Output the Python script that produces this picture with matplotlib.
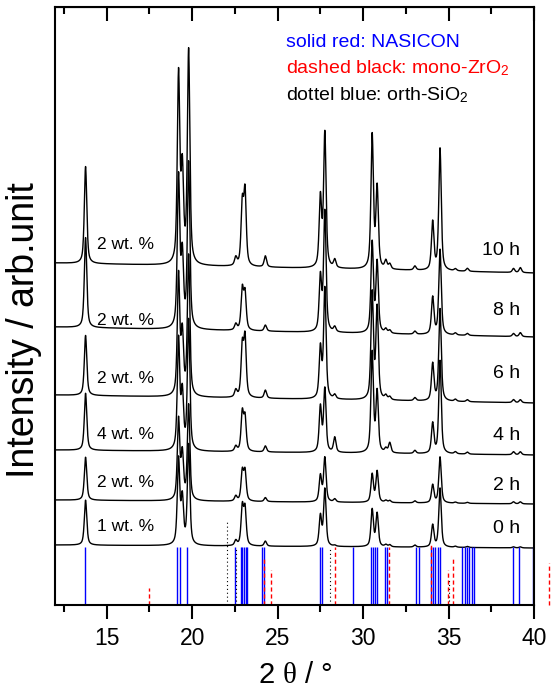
import matplotlib
matplotlib.use("Agg")
import matplotlib.pyplot as plt
import numpy as np

plt.rcParams['font.family'] = ['Liberation Sans', 'DejaVu Sans']
plt.rcParams['mathtext.fontset'] = 'custom'
plt.rcParams['mathtext.rm'] = 'Liberation Sans'
plt.rcParams['mathtext.it'] = 'Liberation Serif'

# sample names (bottom to top) and additive labels
times = ['0 h', '2 h', '4 h', '6 h', '8 h', '10 h']
additive = ['1 wt. %', '2 wt. %', '4 wt. %', '2 wt. %', '2 wt. %', '2 wt. %']

# baseline of each pattern at 2theta = 12 and at 2theta = 40 (offset units)
base_left = [60, 105, 155, 210, 278, 342]
base_right = [57, 101, 150, 202, 268, 332]

# peak positions (2 theta) and heights read for each pattern (0 h ... 10 h)
peak_pos = [13.76, 19.20, 19.42, 19.79, 22.55, 22.93, 23.09, 24.28, 27.50, 27.76,
            28.34, 30.53, 30.82, 31.33, 31.56, 33.03, 34.07, 34.50, 35.40, 36.10,
            38.80, 39.20]
peak_h = {
    '0 h':  [45, 85, 45, 100, 5, 38, 36, 5, 30, 57, 1, 37, 33, 2, 2, 2, 22, 59, 1, 1, 1, 1],
    '2 h':  [43, 80, 45, 95, 5, 29, 29, 4, 26, 44, 3, 28, 31, 2, 2, 2, 18, 46, 1, 1, 2, 2],
    '4 h':  [57, 110, 55, 130, 5, 38, 33, 6, 45, 63, 15, 100, 60, 4, 10, 3, 30, 93, 2, 2, 3, 3],
    '6 h':  [60, 120, 60, 140, 7, 50, 58, 8, 50, 110, 4, 106, 91, 4, 3, 3, 37, 92, 2, 2, 3, 3],
    '8 h':  [90, 150, 70, 165, 6, 40, 36, 6, 54, 120, 5, 90, 70, 4, 3, 3, 37, 85, 2, 2, 3, 4],
    '10 h': [97, 188, 90, 213, 8, 60, 72, 11, 69, 134, 8, 133, 80, 8, 5, 4, 48, 122, 2, 3, 4, 5],
}
fwhm = 0.17
eta = 0.6

# reference patterns
nasicon_pos = [13.70, 19.11, 19.30, 19.69, 22.53, 22.84, 22.93, 23.03, 23.13, 23.23,
               24.07, 24.19, 27.47, 27.58, 29.42, 30.49, 30.59, 30.69, 30.79, 31.27,
               31.37, 33.09, 33.28, 33.95, 34.07, 34.20, 34.36, 34.50, 35.80, 35.96,
               36.09, 36.21, 36.35, 36.49, 38.75, 39.14, 39.92]
nasicon_h = 58
zro2_pos = [17.45, 24.19, 24.63, 28.33, 31.50, 34.00, 34.95, 35.26, 40.85]
zro2_h = [17, 48, 35, 58, 58, 62, 35, 47, 42]
sio2_pos = [22.02, 22.57, 28.07, 35.05]
sio2_h = [85, 58, 58, 25]

x = np.linspace(12, 40, 2801)


def pattern(heights):
    y = np.zeros_like(x)
    for p, h in zip(peak_pos, heights):
        d = (x - p) / (fwhm / 2)
        lor = 1 / (1 + d ** 2)
        gau = np.exp(-np.log(2) * d ** 2)
        y += h * (eta * lor + (1 - eta) * gau)
    return y


fig = plt.figure(figsize=(5.51, 6.92), dpi=100)
ax = fig.add_axes([0.1007, 0.1257, 0.8685, 0.8642])

for i, t in enumerate(times):
    base = base_left[i] + (base_right[i] - base_left[i]) * (x - 12) / 28
    ax.plot(x, base + pattern(peak_h[t]), color='black', lw=1.0)

ax.vlines(nasicon_pos, 0, nasicon_h, colors='blue', lw=1.0)
for p, h in zip(zro2_pos, zro2_h):
    ax.plot([p, p], [0, h], color='red', lw=1.0, ls=(0, (3, 2)), clip_on=(p <= 40))
for p, h in zip(sio2_pos, sio2_h):
    ax.plot([p, p], [0, h], color='black', lw=0.8, ls=(0, (1, 2.5)))

# labels on the patterns
wt_y = [79, 123, 171, 227, 285, 360]
h_y = [77, 120, 170, 232, 295, 354]
for i in range(6):
    ax.text(14.45, wt_y[i], additive[i], fontsize=12.5, ha='left', va='center')
    ax.text(39.2, h_y[i], times[i], fontsize=14, ha='right', va='center')

# legend text
ax.text(25.5, 562, 'solid red: NASICON', color='blue', fontsize=14, va='center')
ax.text(25.5, 537, 'dashed black: mono-ZrO$_2$', color='red', fontsize=14, va='center')
ax.text(25.5, 510, 'dottel blue: orth-SiO$_2$', color='black', fontsize=14, va='center')

ax.set_xlim(12, 40)
ax.set_ylim(0, 598)
ax.set_xticks([15, 20, 25, 30, 35, 40])
ax.set_xticks(np.arange(12.5, 40, 2.5), minor=True)
ax.set_yticks([])
ax.tick_params(axis='x', which='both', direction='out', top=False, labelsize=16.5, width=1.5, pad=6)
ax.tick_params(axis='x', which='major', length=10)
ax.tick_params(axis='x', which='minor', length=5)
for s in ax.spines.values():
    s.set_linewidth(1.5)

# inward ticks on the top axis
top = ax.secondary_xaxis('top')
top.set_xticks([15, 20, 25, 30, 35, 40])
top.set_xticks(np.arange(12.5, 40, 2.5), minor=True)
top.tick_params(which='both', direction='in', labeltop=False, width=1.5)
top.tick_params(which='major', length=10)
top.tick_params(which='minor', length=5)

ax.set_xlabel(r'2 $\theta$ / °', fontsize=21, labelpad=8)
fig.text(24 / 551, 1 - 330 / 692, 'Intensity / arb.unit', fontsize=27,
         rotation=90, ha='center', va='center')

fig.savefig('out.png', dpi=100)
